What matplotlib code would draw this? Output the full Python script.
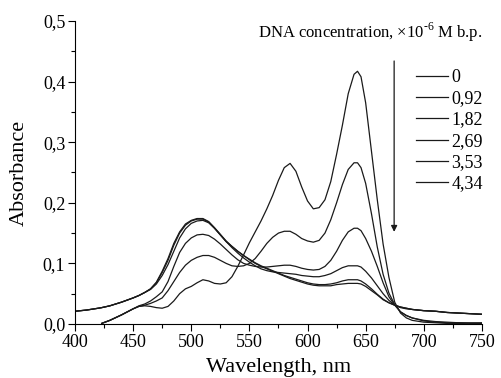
import numpy as np
import matplotlib
matplotlib.use("Agg")
import matplotlib.pyplot as plt
from matplotlib.ticker import MultipleLocator

# ===============================
# Data (absorbance vs wavelength)
# ===============================
nan = np.nan
wavelength = [400, 410, 420, 423, 430, 440, 450, 455, 460, 465, 470, 475, 480, 485, 490,
              495, 500, 505, 510, 515, 520, 525, 530, 535, 540, 545, 550, 555, 560, 565,
              570, 575, 580, 585, 590, 595, 600, 605, 610, 615, 620, 625, 630, 635, 640,
              643, 646, 650, 655, 660, 665, 670, 675, 680, 685, 690, 700, 710, 720, 730,
              740, 750]

dna_0 = [nan, nan, nan, 0.001, 0.006, 0.015, 0.025, 0.029, 0.030, 0.029, 0.027, 0.026, 0.029, 0.038, 0.050,
         0.058, 0.062, 0.068, 0.073, 0.071, 0.067, 0.066, 0.068, 0.078, 0.095, 0.114, 0.134, 0.152, 0.170, 0.190,
         0.212, 0.237, 0.258, 0.265, 0.252, 0.226, 0.203, 0.190, 0.192, 0.205, 0.235, 0.280, 0.328, 0.380, 0.412,
         0.417, 0.408, 0.365, 0.285, 0.205, 0.132, 0.077, 0.036, 0.018, 0.010, 0.006, 0.003, 0.002, 0.001, 0.001,
         0.000, 0.000]

dna_092 = [nan, nan, nan, 0.001, 0.006, 0.015, 0.025, 0.029, 0.031, 0.034, 0.038, 0.043, 0.055, 0.070, 0.085,
           0.097, 0.105, 0.110, 0.113, 0.113, 0.110, 0.105, 0.100, 0.096, 0.095, 0.096, 0.100, 0.108, 0.120, 0.133,
           0.143, 0.150, 0.153, 0.153, 0.148, 0.141, 0.137, 0.135, 0.138, 0.150, 0.172, 0.200, 0.230, 0.255, 0.266,
           0.266, 0.258, 0.232, 0.182, 0.127, 0.082, 0.051, 0.032, 0.020, 0.014, 0.010, 0.005, 0.003, 0.002, 0.002,
           0.001, 0.001]

dna_182 = [nan, nan, nan, 0.001, 0.006, 0.015, 0.025, 0.030, 0.033, 0.038, 0.045, 0.053, 0.070, 0.095, 0.118,
           0.133, 0.142, 0.147, 0.148, 0.146, 0.140, 0.132, 0.123, 0.114, 0.106, 0.100, 0.097, 0.095, 0.094, 0.094,
           0.095, 0.096, 0.097, 0.097, 0.095, 0.092, 0.090, 0.089, 0.090, 0.095, 0.105, 0.120, 0.138, 0.152, 0.158,
           0.158, 0.154, 0.141, 0.120, 0.095, 0.068, 0.045, 0.031, 0.020, 0.014, 0.010, 0.006, 0.004, 0.003, 0.002,
           0.002, 0.002]

dna_269 = [0.021, 0.023, 0.026, 0.027, 0.030, 0.036, 0.043, 0.047, 0.052, 0.057, 0.066, 0.080, 0.098, 0.120, 0.142,
           0.157, 0.166, 0.170, 0.171, 0.167, 0.158, 0.147, 0.136, 0.126, 0.117, 0.109, 0.102, 0.096, 0.091, 0.088,
           0.086, 0.085, 0.084, 0.083, 0.082, 0.080, 0.079, 0.078, 0.078, 0.080, 0.083, 0.088, 0.093, 0.096, 0.096,
           0.096, 0.094, 0.087, 0.076, 0.063, 0.050, 0.039, 0.031, 0.027, 0.025, 0.024, 0.022, 0.021, 0.019, 0.018,
           0.017, 0.016]

dna_353 = [0.021, 0.023, 0.026, 0.027, 0.030, 0.036, 0.043, 0.047, 0.052, 0.058, 0.068, 0.085, 0.105, 0.130, 0.150,
           0.163, 0.170, 0.173, 0.173, 0.168, 0.158, 0.147, 0.136, 0.128, 0.120, 0.113, 0.107, 0.101, 0.096, 0.092,
           0.088, 0.084, 0.080, 0.077, 0.074, 0.071, 0.068, 0.066, 0.065, 0.065, 0.066, 0.068, 0.071, 0.073, 0.073,
           0.073, 0.071, 0.066, 0.058, 0.049, 0.041, 0.035, 0.031, 0.028, 0.026, 0.024, 0.022, 0.021, 0.019, 0.018,
           0.017, 0.016]

dna_434 = [0.021, 0.023, 0.026, 0.027, 0.030, 0.036, 0.043, 0.047, 0.052, 0.058, 0.069, 0.087, 0.108, 0.133, 0.152,
           0.165, 0.171, 0.174, 0.174, 0.169, 0.159, 0.148, 0.137, 0.128, 0.120, 0.113, 0.106, 0.100, 0.095, 0.091,
           0.087, 0.083, 0.079, 0.075, 0.072, 0.069, 0.066, 0.064, 0.063, 0.063, 0.063, 0.065, 0.066, 0.067, 0.067,
           0.067, 0.066, 0.062, 0.055, 0.048, 0.040, 0.035, 0.031, 0.028, 0.026, 0.024, 0.022, 0.021, 0.019, 0.018,
           0.017, 0.016]

series = [dna_0, dna_092, dna_182, dna_269, dna_353, dna_434]
labels = ["0", "0,92", "1,82", "2,69", "3,53", "4,34"]

x_ticks = [400, 450, 500, 550, 600, 650, 700, 750]
y_ticks = [0.0, 0.1, 0.2, 0.3, 0.4, 0.5]
y_tick_labels = ["0,0", "0,1", "0,2", "0,3", "0,4", "0,5"]

# ===============================
# Plot
# ===============================
plt.rcParams["font.family"] = ["Liberation Serif", "DejaVu Serif"]
plt.rcParams["mathtext.fontset"] = "custom"
plt.rcParams["mathtext.rm"] = "Liberation Serif"

fig = plt.figure(figsize=(5.02, 3.78), dpi=100)
ax = fig.add_axes([0.1494, 0.1429, 0.8106, 0.8016])

for vals, lab in zip(series, labels):
    ax.plot(wavelength, vals, color="#1a1a1a", lw=0.9, label=lab)

ax.set_xlim(400, 750)
ax.set_ylim(0, 0.5)
ax.set_xticks(x_ticks)
ax.set_yticks(y_ticks)
ax.set_yticklabels(y_tick_labels)
ax.xaxis.set_minor_locator(MultipleLocator(25))
ax.yaxis.set_minor_locator(MultipleLocator(0.05))
ax.tick_params(which="major", direction="out", length=5, width=0.8, labelsize=13, pad=2)
ax.tick_params(which="minor", direction="out", length=3, width=0.8)

for side in ["top", "right"]:
    ax.spines[side].set_visible(False)

ax.set_xlabel("Wavelength, nm", fontsize=16, labelpad=5)
ax.set_ylabel("Absorbance", fontsize=16, labelpad=10)

# legend title text and arrow
ax.text(1.0, 0.945, "DNA concentration, \u00d710$^{\\mathrm{\u2010}6}$ M b.p.", transform=ax.transAxes,
        ha="right", va="baseline", fontsize=12)
ax.annotate("", xy=(674.5, 0.152), xytext=(674.5, 0.434),
            arrowprops=dict(arrowstyle="-|>", color="#1a1a1a", lw=0.9,
                            mutation_scale=9, shrinkA=0, shrinkB=0))

ax.legend(loc="upper left", bbox_to_anchor=(0.838, 0.842), frameon=False, fontsize=13,
          handlelength=1.75, handletextpad=0.2, labelspacing=0.24, borderpad=0,
          borderaxespad=0)

fig.savefig("out.png", dpi=100)
